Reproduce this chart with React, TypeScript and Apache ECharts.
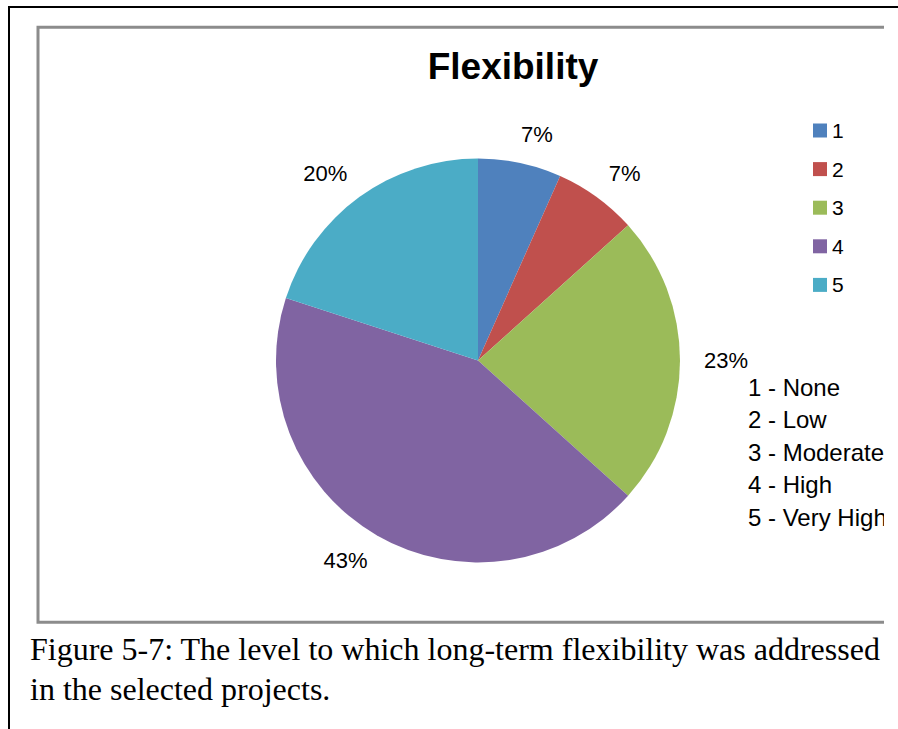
import React, { useEffect, useRef } from 'react';
import * as echarts from 'echarts';

const levels = ['1', '2', '3', '4', '5'];
const projectCounts = [2, 2, 7, 13, 6];
const levelNames = ['1 - None', '2 - Low', '3 - Moderate', '4 - High', '5 - Very High'];
const sliceColors = ['#4F81BD', '#C0504D', '#9BBB59', '#8064A2', '#4BACC6'];
const chartTitle = 'Flexibility';
const captionLines = [
  'Figure 5-7: The level to which long-term flexibility was addressed',
  'in the selected projects.',
];

const SANS = "'Liberation Sans', Arial, sans-serif";
const SERIF = "'Liberation Serif', 'Times New Roman', serif";

export default function App() {
  const ref = useRef<HTMLDivElement>(null);

  useEffect(() => {
    if (!ref.current) return;
    const chart = echarts.init(ref.current, undefined, { renderer: 'svg' });
    chart.setOption({
      animation: false,
      color: sliceColors,
      title: {
        text: chartTitle,
        left: 513,
        top: 48,
        padding: 0,
        textAlign: 'center',
        textStyle: { fontFamily: SANS, fontSize: 37, fontWeight: 'bold', color: '#000' },
      },
      legend: {
        orient: 'vertical',
        left: 813,
        top: 120,
        padding: 0,
        itemWidth: 14,
        itemHeight: 14,
        itemGap: 17.6,
        icon: 'rect',
        data: levels,
        selectedMode: false,
        textStyle: { fontFamily: SANS, fontSize: 21, lineHeight: 21, color: '#000' },
      },
      graphic: [
        {
          type: 'rect',
          silent: true,
          z: -10,
          shape: { x: 38, y: 27.3, width: 900, height: 595 },
          style: { fill: 'none', stroke: '#8c8c8c', lineWidth: 3 },
        },
        ...levelNames.map((t, i) => ({
          type: 'text',
          silent: true,
          x: 748,
          y: 387 + i * 32.5,
          style: {
            text: t,
            font: `24px ${SANS}`,
            fill: '#000',
            align: 'left',
            verticalAlign: 'middle',
          },
        })),
        ...captionLines.map((t, i) => ({
          type: 'text',
          silent: true,
          x: 30,
          y: 649 + i * 40,
          style: {
            text: t,
            font: `32px ${SERIF}`,
            fill: '#000',
            align: 'left',
            verticalAlign: 'middle',
          },
        })),
      ],
      series: [
        {
          type: 'pie',
          center: [478, 360.5],
          radius: 202,
          startAngle: 90,
          clockwise: true,
          avoidLabelOverlap: false,
          percentPrecision: 0,
          emphasis: { disabled: true },
          itemStyle: { borderWidth: 0 },
          label: {
            show: true,
            position: 'outside',
            formatter: '{d}%',
            fontFamily: SANS,
            fontSize: 22,
            color: '#000',
            distanceToLabelLine: 5,
          },
          labelLine: { show: false, length: 29, length2: -10 },
          data: levels.map((name, i) => ({ name, value: projectCounts[i] })),
        },
      ],
    });
    return () => chart.dispose();
  }, []);

  return (
    <div style={{ position: 'absolute', left: 0, top: 0, width: 898, height: 729, overflow: 'hidden', background: '#fff' }}>
      <div style={{ position: 'absolute', left: 8, top: 6, width: 890, height: 1.6, background: '#000' }} />
      <div style={{ position: 'absolute', left: 8, top: 6, width: 2, height: 723, background: '#000' }} />
      <div ref={ref} style={{ position: 'absolute', left: 0, top: 0, width: 884, height: 729 }} />
    </div>
  );
}
